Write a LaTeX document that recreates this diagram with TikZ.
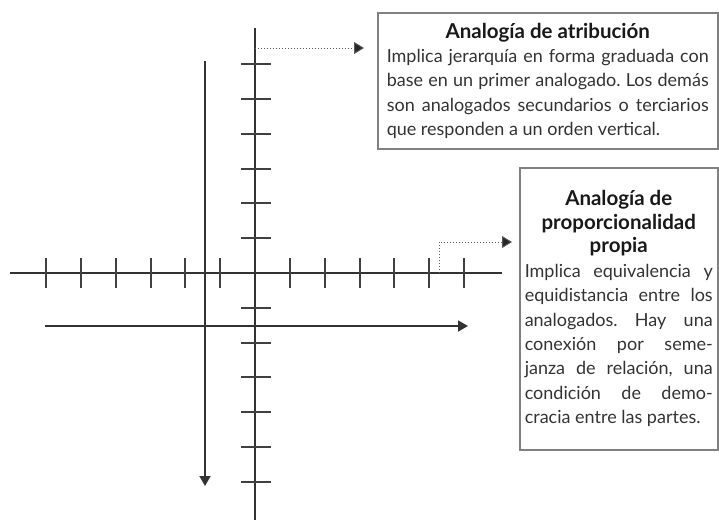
\documentclass[tikz,border=0pt]{standalone}
\usepackage{fontspec}
\setmainfont{Lato}
\usetikzlibrary{arrows.meta}
\usetikzlibrary{positioning}

\begin{document}
\frenchspacing
\begin{tikzpicture}[x=1pt,y=-1pt,
axis/.style={line width=2pt,draw=black!80},
tick/.style={line width=1.4pt,draw=black!75},
guide/.style={line width=1.8pt,draw=black!80,-{Triangle[length=10pt,width=11pt]}},
lead/.style={line width=1pt,draw=black!65,dotted,-{Triangle[length=10pt,width=12pt,fill=black!85]}},
card/.style={rectangle,draw=black!50,line width=1.5pt,align=justify,text=black!80,anchor=north west,font=\fontsize{18}{24.4}\selectfont}]
\useasboundingbox (0,0) rectangle (719,520);
% ejes
\coordinate (vtop) at (255,28);
\coordinate (vbot) at (255,520);
\coordinate (hleft) at (10,273);
\coordinate (hright) at (502,273);
\draw[axis] (vtop) -- (vbot);
\draw[axis] (hleft) -- (hright);
% marcas
\draw[tick] (46,258)--(46,288) (81,258)--(81,288) (116,258)--(116,288) (151,258)--(151,288) (185,258)--(185,288) (220,258)--(220,288);
\draw[tick] (290,258)--(290,288) (325,258)--(325,288) (360,258)--(360,288) (394,258)--(394,288) (429,258)--(429,288) (464,258)--(464,288);
\draw[tick] (241,64)--(271,64) (241,99)--(271,99) (241,134)--(271,134) (241,169)--(271,169) (241,203)--(271,203) (241,238)--(271,238);
\draw[tick] (241,308)--(271,308) (241,343)--(271,343) (241,377)--(271,377) (241,412)--(271,412) (241,447)--(271,447) (241,482)--(271,482);
% flechas
\coordinate (dtop) at (205,61);
\coordinate (dbot) at (205,486);
\coordinate (rleft) at (45,326);
\coordinate (rright) at (468,326);
\draw[guide] (dtop) -- (dbot);
\draw[guide] (rleft) -- (rright);
% cuadros
\node[card,text width=322pt,inner xsep=9pt,inner ysep=6pt,minimum width=340pt,minimum height=136pt] (atrib) at (377,12)
{{\centering\color{black!90}\fontsize{20.5}{24.4}\selectfont\bfseries Analogía de atribución\par}
Implica jerarquía en forma graduada con\linebreak base en un primer analogado. Los demás\linebreak son analogados secundarios o terciarios\linebreak que responden a un orden vertical.};
\node[card,text width=188pt,inner xsep=5pt,inner ysep=8pt,minimum width=198pt,minimum height=282pt] (propor) at (519,167)
{{\centering\color{black!90}\fontsize{20.5}{23.5}\selectfont\bfseries Analogía de\par proporcionalidad\par propia\par}
Implica equivalencia y\linebreak equidistancia entre los\linebreak analogados. Hay una\linebreak conexión por seme-\linebreak janza de relación, una\linebreak condición de demo-\linebreak cracia entre las partes.};
% conectores
\coordinate (a1) at (255,48);
\coordinate (a1end) at (364,48);
\coordinate (a2) at (439,273);
\coordinate (a2end) at (512,242);
\draw[lead] (a1) -- (a1end);
\draw[lead] (a2) |- (a2end);
\end{tikzpicture}
\end{document}
